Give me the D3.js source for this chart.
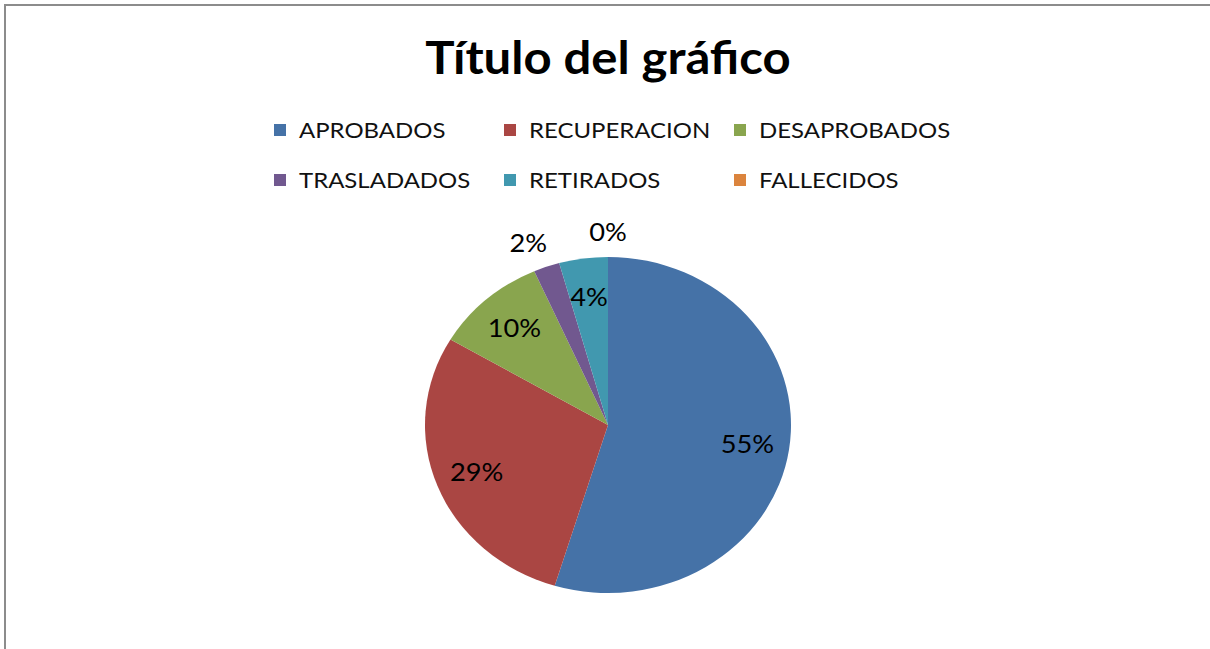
<html>
<head>
<meta charset="utf-8">
<title>Título del gráfico</title>
<script src="https://cdnjs.cloudflare.com/ajax/libs/d3/7.8.5/d3.min.js"></script>
<style>
body { margin: 0; background: #fff; }
svg text { font-family: Lato, 'Open Sans', sans-serif; }
</style>
</head>
<body>
<svg width="1210" height="649"></svg>

<script>

var chartTitle = "Título del gráfico";
var categories = ["APROBADOS", "RECUPERACION", "DESAPROBADOS", "TRASLADADOS", "RETIRADOS", "FALLECIDOS"];
var percents = [54.7, 28.8, 9.9, 2.3, 4.3, 0];
var colors = ["#4572a7", "#aa4643", "#89a54e", "#71588f", "#4198af", "#db843d"];

var svg = d3.select("svg");

// the original picture is stretched sideways, so draw everything in a scaled group
var stretch = 183 / 168;
var cx = 608 / stretch, cy = 425, radius = 168;

// outer frame of the chart
svg.append("rect")
	.attr("x", 5).attr("y", 5)
	.attr("width", 1230).attr("height", 680)
	.style("fill", "none")
	.style("stroke", "#8c8c8c")
	.style("stroke-width", 2);

var chart = svg.append("g").attr("transform", "scale(" + stretch + ",1)");

chart.append("text")
	.attr("x", cx).attr("y", 74)
	.attr("text-anchor", "middle")
	.style("font-weight", "bold")
	.style("font-size", "45px")
	.style("fill", "#000")
	.text(chartTitle);

// legend: 3 columns x 2 rows
var colW = 230 / stretch;
var legendX = 274 / stretch;
var legend = chart.selectAll("g.legend").data(categories)
	.enter().append("g").attr("class", "legend")
	.attr("transform", function (d, i) {
		return "translate(" + (legendX + (i % 3) * colW) + "," + (130 + Math.floor(i / 3) * 50) + ")";
	});
legend.append("rect")
	.attr("x", 0).attr("y", -6)
	.attr("width", 12 / stretch).attr("height", 12)
	.style("fill", function (d, i) { return colors[i]; });
legend.append("text")
	.attr("x", 25 / stretch).attr("y", 0).attr("dy", "0.36em")
	.style("font-size", "22px")
	.style("fill", "#111")
	.text(function (d) { return d; });

// pie
var pie = d3.pie().sort(null).value(function (d) { return d; });
var arcs = pie(percents);
var arc = d3.arc().innerRadius(0).outerRadius(radius);
var total = d3.sum(percents);
var fmt = d3.format(".0%");

var pieG = chart.append("g").attr("transform", "translate(" + cx + "," + cy + ")");

pieG.selectAll("path.slice").data(arcs)
	.enter().append("path").attr("class", "slice")
	.attr("d", arc)
	.style("fill", function (d, i) { return colors[i]; });

// small slices get their label outside the pie
pieG.selectAll("text.label").data(arcs)
	.enter().append("text").attr("class", "label")
	.attr("transform", function (d) {
		var a = (d.startAngle + d.endAngle) / 2;
		var outside = d.value < 3;
		var k = outside ? 1.15 : 0.77;
		var x = Math.sin(a) * radius * k + (outside ? Math.sin(a) * 25 : 0);
		return "translate(" + x + "," + (-Math.cos(a) * radius * k) + ")";
	})
	.attr("text-anchor", "middle")
	.attr("dy", "0.36em")
	.style("font-size", "25px")
	.style("fill", "#000")
	.text(function (d) { return fmt(d.value / total); });

</script>
</body>
</html>
